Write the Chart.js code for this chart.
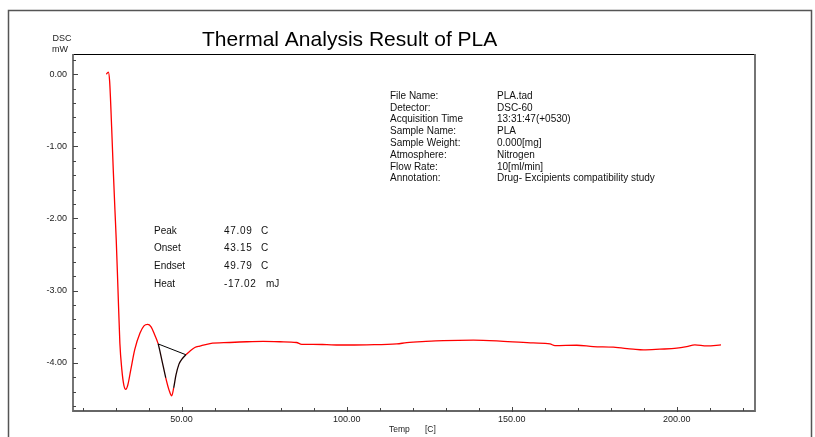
<!DOCTYPE html>
<html>
<head>
<meta charset="utf-8">
<title>Thermal Analysis Result of PLA</title>
<script src="https://cdn.jsdelivr.net/npm/chart.js@4/dist/chart.umd.min.js"></script>
<style>
  html, body { margin: 0; padding: 0; background: #fff; }
  canvas { display: block; }
</style>
</head>
<body>
<canvas id="dsc" width="815" height="437"></canvas>
<script>
// DSC trace: temperature [C] and heat flow [mW]
const temps = [27.2, 27.8, 28.2, 28.8, 29.3, 29.8, 30.2, 30.7, 31.3, 31.9, 32.5, 33.1, 33.7, 34.6, 35.8, 37.4, 38.6, 39.7, 40.7, 41.9,
  42.9, 44.0, 45.2, 46.2, 47.0, 47.6, 48.3, 49.2, 50.1, 51.3, 52.5, 54.0, 55.5, 58.6, 64.6, 69.7, 74.7, 79.8, 84.8, 86.4,
  89.8, 94.0, 98.0, 106.1, 115.2, 118.2, 124.0, 129.3, 138.4, 146.5, 156.5, 161.6, 163.1, 169.7, 174.7, 180.8, 186.8, 189.9,
  194.9, 200.0, 203.0, 205.5, 209.1, 213.4];
const dsc = [0.00, 0.03, -0.10, -0.73, -1.33, -1.88, -2.30, -2.95, -3.73, -4.10, -4.31, -4.37, -4.31, -4.10, -3.82, -3.59, -3.49, -3.47, -3.50, -3.62,
  -3.74, -3.96, -4.21, -4.38, -4.46, -4.35, -4.17, -4.02, -3.95, -3.89, -3.84, -3.79, -3.77, -3.735, -3.72, -3.71, -3.705, -3.71, -3.72, -3.745,
  -3.745, -3.75, -3.755, -3.752, -3.74, -3.722, -3.705, -3.694, -3.688, -3.70, -3.726, -3.74, -3.763, -3.758, -3.777, -3.785, -3.813, -3.823,
  -3.813, -3.799, -3.777, -3.753, -3.767, -3.753];

// integration baseline under the melting peak
const baseTemps = [42.9, 51.3];
const baseDsc = [-3.74, -3.89];
// curve stretches traced in black (peak flanks)
const flankLeft = [42.9, 45.2];
const flankRight = [47.6, 51.3];

// axis settings
const xMin = 17.1, xMax = 223.7, xStep = 10, xMajor = 50;
const yMin = -4.67, yMax = 0.28, yStep = 0.2;

const peakRows = [
  ['Peak', '47.09', 'C'],
  ['Onset', '43.15', 'C'],
  ['Endset', '49.79', 'C'],
  ['Heat', '-17.02', 'mJ']
];
const infoRows = [
  ['File Name:', 'PLA.tad'],
  ['Detector:', 'DSC-60'],
  ['Acquisition Time', '13:31:47(+0530)'],
  ['Sample Name:', 'PLA'],
  ['Sample Weight:', '0.000[mg]'],
  ['Atmosphere:', 'Nitrogen'],
  ['Flow Rate:', '10[ml/min]'],
  ['Annotation:', 'Drug- Excipients compatibility study']
];

const FONT = '"Liberation Sans", Arial, sans-serif';
const toPoints = (xs, ys) => xs.map((x, i) => ({ x: x, y: ys[i] }));
const inRange = (a, b, r) => a >= r[0] - 1e-9 && b <= r[1] + 1e-9;

// frame, inward ticks and all the annotation text
const decorations = {
  id: 'decorations',
  afterDraw(chart) {
    const ctx = chart.ctx;
    const a = chart.chartArea;
    ctx.save();

    // outer page border
    ctx.strokeStyle = '#555';
    ctx.lineWidth = 1.5;
    ctx.beginPath();
    ctx.moveTo(8.5, 437);
    ctx.lineTo(8.5, 10.5);
    ctx.lineTo(811.5, 10.5);
    ctx.lineTo(811.5, 437);
    ctx.stroke();

    // plot box
    ctx.strokeStyle = '#000';
    ctx.lineWidth = 1;
    ctx.beginPath();
    ctx.moveTo(a.left, a.top + 0.5);
    ctx.lineTo(a.right, a.top + 0.5);
    ctx.stroke();
    ctx.strokeStyle = '#666';
    ctx.lineWidth = 1.8;
    ctx.beginPath();
    ctx.moveTo(a.left, a.top);
    ctx.lineTo(a.left, a.bottom);
    ctx.lineTo(a.right, a.bottom);
    ctx.lineTo(a.right, a.top);
    ctx.stroke();

    // ticks pointing into the plot
    ctx.strokeStyle = '#444';
    ctx.lineWidth = 1;
    const xs = chart.scales.x, ys = chart.scales.y;
    xs.ticks.forEach(t => {
      const px = Math.round(xs.getPixelForValue(t.value)) + 0.5;
      const major = Math.abs(t.value % xMajor) < 1e-6;
      ctx.beginPath();
      ctx.moveTo(px, a.bottom + (major ? 1 : 0));
      ctx.lineTo(px, a.bottom - (major ? 4 : 3));
      ctx.stroke();
    });
    ys.ticks.forEach(t => {
      const py = Math.round(ys.getPixelForValue(t.value)) + 0.5;
      const major = Math.abs(t.value - Math.round(t.value)) < 1e-6;
      ctx.beginPath();
      ctx.moveTo(a.left, py);
      ctx.lineTo(a.left + (major ? 5 : 3), py);
      ctx.stroke();
    });

    // title
    ctx.fillStyle = '#000';
    ctx.textAlign = 'left';
    ctx.textBaseline = 'alphabetic';
    ctx.font = '21px ' + FONT;
    ctx.fillText('Thermal Analysis Result of PLA', 202, 46);

    // axis captions
    ctx.fillStyle = '#222';
    ctx.textBaseline = 'middle';
    ctx.textAlign = 'center';
    ctx.font = '9px ' + FONT;
    ctx.fillText('DSC', 62, 39);
    ctx.fillText('mW', 60, 50);
    ctx.textAlign = 'left';
    ctx.font = '8.5px ' + FONT;
    ctx.fillText('Temp', 389, 430);
    ctx.fillText('[C]', 425, 430);

    // file information block
    ctx.font = '10px ' + FONT;
    ctx.fillStyle = '#111';
    infoRows.forEach((r, i) => {
      const y = 96 + i * 11.8;
      ctx.fillText(r[0], 390, y);
      ctx.fillText(r[1], 497, y);
    });

    // peak analysis block
    peakRows.forEach((r, i) => {
      const y = 231 + i * 17.7;
      ctx.letterSpacing = '0px';
      ctx.fillText(r[0], 154, y);
      ctx.letterSpacing = '0.7px';
      ctx.fillText(r[1], 224, y);
      ctx.letterSpacing = '0px';
      ctx.fillText(r[2], r[2] === 'C' ? 261 : 266, y);
    });

    ctx.restore();
  }
};

new Chart(document.getElementById('dsc'), {
  type: 'line',
  data: {
    datasets: [
      {
        data: toPoints(baseTemps, baseDsc),
        borderColor: '#000',
        borderWidth: 1,
        pointRadius: 0,
        tension: 0
      },
      {
        data: toPoints(temps, dsc),
        borderColor: '#ff0000',
        borderWidth: 1.3,
        pointRadius: 0,
        cubicInterpolationMode: 'monotone',
        segment: {
          borderColor: c => {
            const a = c.p0.parsed.x, b = c.p1.parsed.x;
            return inRange(a, b, flankLeft) || inRange(a, b, flankRight) ? '#1a0000' : undefined;
          }
        }
      }
    ]
  },
  options: {
    responsive: false,
    devicePixelRatio: 1,
    animation: false,
    events: [],
    layout: { padding: { top: 54, right: 60, left: 0, bottom: 0 } },
    plugins: {
      legend: { display: false },
      tooltip: { enabled: false },
      title: { display: false }
    },
    scales: {
      x: {
        type: 'linear',
        min: xMin,
        max: xMax,
        grid: { display: false, drawTicks: false },
        border: { display: false },
        afterFit: s => { s.height = 26; },
        ticks: {
          stepSize: xStep,
          maxTicksLimit: 100,
          includeBounds: false,
          autoSkip: false,
          maxRotation: 0,
          padding: 3,
          color: '#222',
          font: { family: FONT, size: 9 },
          callback: v => (Math.abs(v % xMajor) < 1e-6 ? v.toFixed(2) : '')
        }
      },
      y: {
        min: yMin,
        max: yMax,
        grid: { display: false, drawTicks: false },
        border: { display: false },
        afterFit: s => { s.width = 73; },
        ticks: {
          stepSize: yStep,
          maxTicksLimit: 100,
          includeBounds: false,
          autoSkip: false,
          padding: 6,
          color: '#222',
          font: { family: FONT, size: 9 },
          callback: v => (Math.abs(v - Math.round(v)) < 1e-6 ? v.toFixed(2) : '')
        }
      }
    }
  },
  plugins: [decorations]
});
</script>
</body>
</html>
